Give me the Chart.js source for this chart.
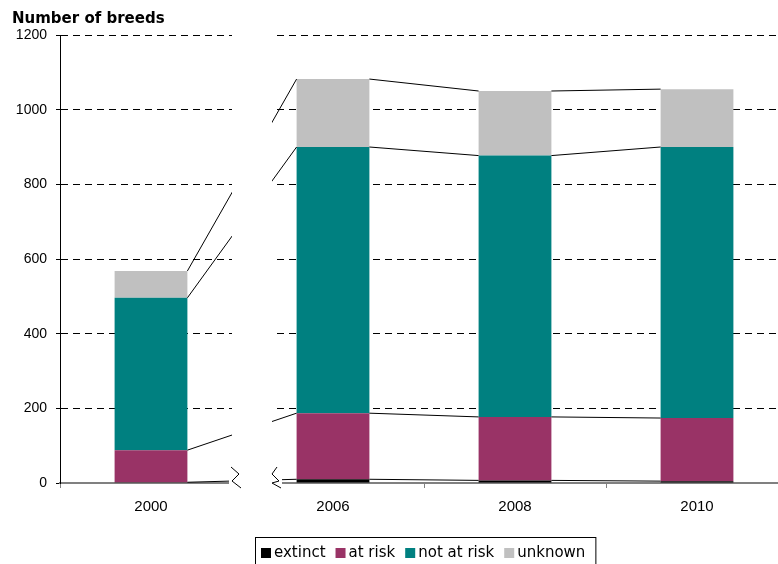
<!DOCTYPE html>
<html>
<head>
<meta charset="utf-8">
<script src="https://cdn.jsdelivr.net/npm/chart.js@4.4.1/dist/chart.umd.min.js"></script>
<style>
  html, body { margin: 0; padding: 0; background: #fff; }
  #wrap { width: 778px; height: 564px; overflow: hidden; }
</style>
</head>
<body>
<div id="wrap"><canvas id="breeds" width="790" height="564"></canvas></div>
<script>
// values
const years = ['2000', '2006', '2008', '2010'];
const extinct = [2, 10, 7, 5];
const atRisk = [86, 177, 170, 169];
const notAtRisk = [408, 713, 700, 726];
const unknown = [72, 182, 173, 155];
const yTicks = [0, 200, 400, 600, 800, 1000, 1200];

const seriesNames = ['extinct', 'at risk', 'not at risk', 'unknown'];
const seriesColors = ['#000000', '#993366', '#008080', '#c0c0c0'];

// lines joining the tops of each stack segment (Excel "series lines")
const seriesLines = {
    id: 'seriesLines',
    afterDatasetsDraw(chart) {
        const ctx = chart.ctx;
        ctx.save();
        ctx.strokeStyle = '#000';
        ctx.lineWidth = 1;
        chart.data.datasets.forEach((ds, d) => {
            const bars = chart.getDatasetMeta(d).data;
            for (let i = 0; i < bars.length - 1; i++) {
                const a = bars[i], b = bars[i + 1];
                ctx.beginPath();
                ctx.moveTo(a.x + a.width / 2, a.y);
                ctx.lineTo(b.x - b.width / 2, b.y);
                ctx.stroke();
            }
        });
        ctx.restore();
    }
};

// axis break between 2000 and 2006
const axisBreak = {
    id: 'axisBreak',
    afterDraw(chart) {
        const ctx = chart.ctx;
        const area = chart.chartArea;
        const x = chart.scales.x;
        const mid = (x.getPixelForValue(0) + x.getPixelForValue(1)) / 2;
        const bottom = area.bottom;
        ctx.save();
        ctx.fillStyle = '#fff';
        ctx.fillRect(mid - 10, area.top - 6, 40, bottom - area.top + 2);
        ctx.fillRect(mid - 13, bottom - 6, 53, 14);
        ctx.strokeStyle = '#000';
        ctx.lineWidth = 1;
        ctx.beginPath();
        ctx.moveTo(mid - 11, bottom - 16);
        ctx.lineTo(mid - 3, bottom - 9);
        ctx.lineTo(mid - 10, bottom - 2);
        ctx.lineTo(mid - 1, bottom + 5);
        ctx.stroke();
        ctx.beginPath();
        ctx.moveTo(mid + 35, bottom - 16);
        ctx.lineTo(mid + 30, bottom - 9);
        ctx.lineTo(mid + 37, bottom - 2);
        ctx.lineTo(mid + 30, bottom + 0);
        ctx.lineTo(mid + 39, bottom + 5);
        ctx.stroke();
        ctx.restore();
    }
};

// title and boxed legend
const decorations = {
    id: 'decorations',
    afterDraw(chart) {
        const ctx = chart.ctx;
        ctx.save();
        ctx.fillStyle = '#000';
        ctx.font = 'bold 15px "DejaVu Sans"';
        ctx.textBaseline = 'alphabetic';
        ctx.textAlign = 'left';
        ctx.fillText('Number of breeds', 12, 23);

        ctx.font = '15px "DejaVu Sans"';
        ctx.textBaseline = 'middle';
        let px = 261;
        const cy = 553;
        const boxLeft = 255;
        chart.data.datasets.forEach(ds => {
            ctx.fillStyle = ds.backgroundColor;
            ctx.fillRect(px, cy - 5, 10, 10);
            ctx.fillStyle = '#000';
            ctx.fillText(ds.label, px + 13, cy);
            px += 13 + ctx.measureText(ds.label).width + 10;
        });
        ctx.strokeStyle = '#000';
        ctx.lineWidth = 1;
        ctx.strokeRect(boxLeft + 0.5, 537.5, px - boxLeft, 40);
        ctx.restore();
    }
};

const seriesData = [extinct, atRisk, notAtRisk, unknown];

new Chart(document.getElementById('breeds'), {
    type: 'bar',
    data: {
        labels: years,
        datasets: seriesData.map((vals, i) => ({
            label: seriesNames[i],
            data: vals,
            backgroundColor: seriesColors[i],
            borderWidth: 0,
            categoryPercentage: 1,
            barPercentage: 0.4
        }))
    },
    options: {
        responsive: false,
        animation: false,
        layout: { padding: { left: 0, top: 35, right: 2, bottom: 0 } },
        scales: {
            x: {
                stacked: true,
                offset: true,
                afterFit: s => { s.height = 81; },
                grid: {
                    display: true,
                    drawOnChartArea: false,
                    tickLength: 5,
                    color: '#808080',
                    offset: true
                },
                border: { color: '#808080', width: 2 },
                ticks: {
                    color: '#000',
                    padding: 10,
                    font: { family: 'Arial, "Liberation Sans", sans-serif', size: 15 }
                }
            },
            y: {
                stacked: true,
                min: 0,
                max: 1200,
                afterFit: s => { s.width = 60; },
                afterBuildTicks: s => { s.ticks = yTicks.map(v => ({ value: v })); },
                grid: {
                    color: c => (c.tick && c.tick.value === 0) ? 'rgba(0,0,0,0)' : '#000',
                    tickColor: '#000',
                    tickLength: 4,
                    lineWidth: 1
                },
                border: { color: '#000', width: 1, dash: [7, 5] },
                ticks: {
                    color: '#000',
                    padding: 9,
                    callback: v => String(v),
                    font: { family: 'Arial, "Liberation Sans", sans-serif', size: 14 }
                }
            }
        },
        plugins: {
            legend: { display: false },
            tooltip: { enabled: false }
        }
    },
    plugins: [seriesLines, axisBreak, decorations]
});
</script>
</body>
</html>
